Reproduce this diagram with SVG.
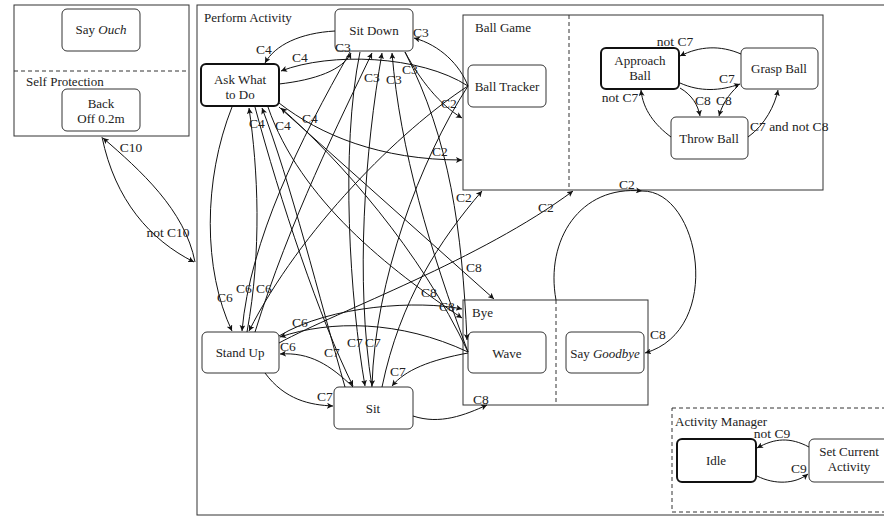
<svg xmlns="http://www.w3.org/2000/svg" width="884" height="517" viewBox="0 0 884 517">
<defs>
<marker id="ah" markerWidth="7" markerHeight="6" refX="6" refY="3" orient="auto" markerUnits="userSpaceOnUse">
<path d="M0,0 L6,3 L0,6 L1.5,3 z" fill="#111"/>
</marker>
<style>
text{font-family:"Liberation Serif","DejaVu Serif",serif;font-size:13px;fill:#222}
#labels text{font-size:13.5px}
.n{fill:#fff;stroke:#333;stroke-width:1}
.t{fill:#fff;stroke:#111;stroke-width:2}
.box{fill:none;stroke:#333;stroke-width:1}
.dash{fill:none;stroke:#333;stroke-width:1;stroke-dasharray:4,3}
.e path{fill:none;stroke:#111;stroke-width:1;marker-end:url(#ah)}
.m{text-anchor:middle}
</style>
</defs>
<rect width="884" height="517" fill="#fff"/>

<g id="self-protection">
<rect class="box" x="14" y="5" width="175" height="131"/>
<line class="dash" x1="14" y1="71" x2="189" y2="71"/>
<text x="26" y="86">Self Protection</text>
</g>
<g id="say-ouch"><rect class="n" x="62" y="9" width="78" height="42" rx="5"/><text class="m" x="101" y="34">Say <tspan font-style="italic">Ouch</tspan></text></g>
<g id="back-off"><rect class="n" x="62" y="89" width="78" height="42" rx="5"/><text class="m" x="101" y="108">Back</text><text class="m" x="101" y="123">Off 0.2m</text></g>

<g id="perform-activity">
<rect class="box" x="197" y="5" width="700" height="510"/>
<text x="204" y="22">Perform Activity</text>
</g>
<g id="ball-game">
<rect class="box" x="463" y="15" width="360" height="175"/>
<line class="dash" x1="569" y1="15" x2="569" y2="190"/>
<text x="475" y="32">Ball Game</text>
</g>
<g id="bye">
<rect class="box" x="463" y="300" width="185" height="105"/>
<line class="dash" x1="556" y1="300" x2="556" y2="405"/>
<text x="472" y="317">Bye</text>
</g>
<g id="activity-manager">
<rect class="dash" x="672" y="408" width="230" height="104"/>
<text x="675" y="426">Activity Manager</text>
</g>

<g id="sit-down"><rect class="n" x="335" y="9" width="78" height="42" rx="5"/><text class="m" x="374" y="35">Sit Down</text></g>
<g id="ask"><rect class="t" x="201" y="64" width="78" height="42" rx="5"/><text class="m" x="240" y="84">Ask What</text><text class="m" x="240" y="99">to Do</text></g>
<g id="ball-tracker"><rect class="n" x="468" y="65" width="78" height="42" rx="5"/><text class="m" x="507" y="91">Ball Tracker</text></g>
<g id="approach-ball"><rect class="t" x="601" y="48" width="78" height="41" rx="5"/><text class="m" x="640" y="65">Approach</text><text class="m" x="640" y="80">Ball</text></g>
<g id="grasp-ball"><rect class="n" x="741" y="48" width="77" height="41" rx="5"/><text class="m" x="779" y="73">Grasp Ball</text></g>
<g id="throw-ball"><rect class="n" x="671" y="117" width="77" height="42" rx="5"/><text class="m" x="709" y="143">Throw Ball</text></g>
<g id="stand-up"><rect class="n" x="202" y="332" width="77" height="41" rx="5"/><text class="m" x="240" y="357">Stand Up</text></g>
<g id="sit"><rect class="n" x="334" y="387" width="79" height="42" rx="5"/><text class="m" x="373" y="413">Sit</text></g>
<g id="wave"><rect class="n" x="468" y="332" width="78" height="41" rx="5"/><text class="m" x="507" y="358">Wave</text></g>
<g id="say-goodbye"><rect class="n" x="566" y="332" width="78" height="41" rx="5"/><text class="m" x="605" y="358">Say <tspan font-style="italic">Goodbye</tspan></text></g>
<g id="idle"><rect class="t" x="677" y="439" width="79" height="43" rx="5"/><text class="m" x="716" y="465">Idle</text></g>
<g id="set-current"><rect class="n" x="809" y="439" width="80" height="43" rx="5"/><text class="m" x="849" y="456">Set Current</text><text class="m" x="849" y="471">Activity</text></g>

<g id="connectors" class="e">
<path d="M102,137 C115,200 150,240 194,262"/>
<path d="M195,262 C185,210 140,170 103,138"/>
<path d="M335,31 C300,33 275,45 265,63"/>
<path d="M468,86 C420,55 330,52 281,71"/>
<path d="M247,332 C262,250 258,170 249,108"/>
<path d="M345,387 C320,300 290,180 262,108"/>
<path d="M468,352 C420,250 340,160 281,108"/>
<path d="M279,84 C315,80 343,70 351,53"/>
<path d="M468,86 C460,65 440,45 414,38"/>
<path d="M255,332 C290,220 340,120 372,53"/>
<path d="M372,387 C355,280 365,150 382,53"/>
<path d="M468,352 C430,250 400,150 392,53"/>
<path d="M405,52 C420,80 440,105 462,118"/>
<path d="M279,103 C320,135 380,160 462,160"/>
<path d="M382,387 C400,300 440,240 482,191"/>
<path d="M279,343 C340,310 480,260 573,191"/>
<path d="M556,300 C545,240 580,185 642,191"/>
<path d="M232,107 C203,180 203,270 232,331"/>
<path d="M350,52 C300,140 250,240 242,331"/>
<path d="M468,86 C400,130 300,230 249,331"/>
<path d="M468,352 C400,320 330,320 280,337"/>
<path d="M353,387 C330,365 310,352 280,354"/>
<path d="M265,373 C285,400 310,405 333,406"/>
<path d="M255,107 C280,200 320,320 353,386"/>
<path d="M360,52 C340,150 350,300 365,386"/>
<path d="M468,86 C420,160 375,280 372,386"/>
<path d="M468,353 C430,360 405,370 392,386"/>
<path d="M405,52 C450,140 462,230 467,340"/>
<path d="M279,107 L494,299"/>
<path d="M268,107 C300,200 390,270 462,318"/>
<path d="M279,336 C330,305 420,300 462,309"/>
<path d="M413,416 C440,425 465,415 487,405"/>
<path d="M642,191 C700,190 725,330 645,353"/>
<path d="M741,54 C720,45 700,46 680,56"/>
<path d="M680,83 C700,92 720,91 740,84"/>
<path d="M680,88 C692,95 698,105 700,116"/>
<path d="M738,86 C728,95 722,105 719,116"/>
<path d="M671,137 C655,125 643,110 641,90"/>
<path d="M748,137 C765,125 775,105 778,90"/>
<path d="M809,447 C790,437 775,438 757,448"/>
<path d="M757,476 C775,485 795,484 808,474"/>
</g>

<g id="labels">
<text class="m" x="131" y="152">C10</text>
<text class="m" x="168" y="237">not C10</text>
<text class="m" x="264" y="54">C4</text>
<text class="m" x="300" y="62">C4</text>
<text class="m" x="257" y="128">C4</text>
<text class="m" x="283" y="130">C4</text>
<text class="m" x="310" y="123">C4</text>
<text class="m" x="343" y="52">C3</text>
<text class="m" x="421" y="37">C3</text>
<text class="m" x="372" y="82">C3</text>
<text class="m" x="394" y="84">C3</text>
<text class="m" x="410" y="74">C3</text>
<text class="m" x="449" y="108">C2</text>
<text class="m" x="440" y="156">C2</text>
<text class="m" x="464" y="202">C2</text>
<text class="m" x="546" y="212">C2</text>
<text class="m" x="627" y="189">C2</text>
<text class="m" x="225" y="302">C6</text>
<text class="m" x="244" y="293">C6</text>
<text class="m" x="264" y="293">C6</text>
<text class="m" x="300" y="327">C6</text>
<text class="m" x="288" y="351">C6</text>
<text class="m" x="325" y="401">C7</text>
<text class="m" x="332" y="357">C7</text>
<text class="m" x="355" y="347">C7</text>
<text class="m" x="373" y="347">C7</text>
<text class="m" x="398" y="376">C7</text>
<text class="m" x="474" y="272">C8</text>
<text class="m" x="429" y="297">C8</text>
<text class="m" x="447" y="311">C8</text>
<text class="m" x="481" y="404">C8</text>
<text class="m" x="658" y="339">C8</text>
<text class="m" x="675" y="46">not C7</text>
<text class="m" x="727" y="83">C7</text>
<text class="m" x="703" y="105">C8</text>
<text class="m" x="724" y="105">C8</text>
<text class="m" x="620" y="102">not C7</text>
<text x="750" y="131">C7 and not C8</text>
<text class="m" x="772" y="438">not C9</text>
<text class="m" x="799" y="473">C9</text>
</g>
</svg>
